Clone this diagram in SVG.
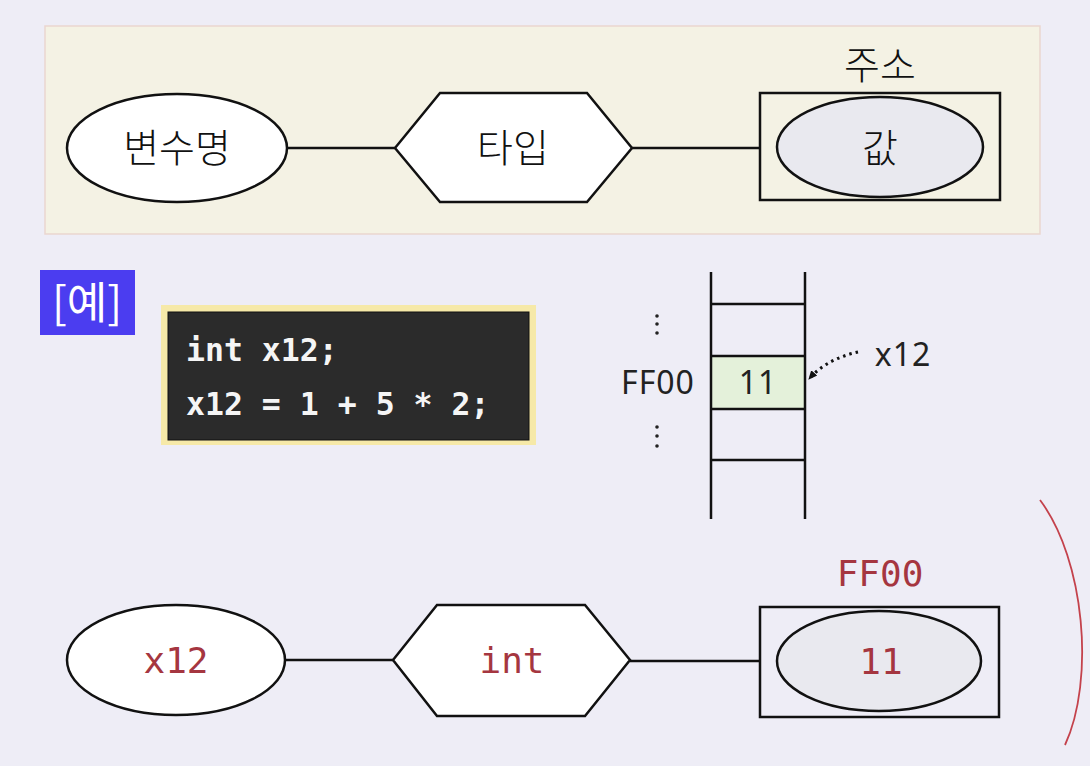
<svg xmlns="http://www.w3.org/2000/svg" width="1090" height="766" viewBox="0 0 1090 766">
<defs>
<style>
.bg{fill:#eeedf6}
.shape{fill:#ffffff;stroke:#111;stroke-width:2.5}
.val{fill:#e9e9ef;stroke:#111;stroke-width:2.5}
.box{fill:none;stroke:#111;stroke-width:2.5}
.conn{stroke:#111;stroke-width:2.5;fill:none}
.ko{font-family:"Noto Sans CJK KR","Noto Sans",sans-serif;font-size:39px;font-weight:300;fill:#111;text-anchor:middle}
.red{font-family:"DejaVu Sans Mono","Liberation Mono",monospace;font-size:36px;fill:#a53640;text-anchor:middle}
.code{font-family:"DejaVu Sans Mono","Liberation Mono",monospace;font-size:31.5px;fill:#f5f5f5;font-weight:bold}
.mem{font-family:"Noto Sans","Liberation Sans",sans-serif;font-size:32px;font-weight:400;fill:#222;letter-spacing:1px}
.grid{stroke:#111;stroke-width:2.5}
</style>
<marker id="ah" markerWidth="10" markerHeight="10" refX="8" refY="5" orient="auto" markerUnits="userSpaceOnUse">
<path d="M0,1 L9,5 L0,9 Z" fill="#111"/>
</marker>
</defs>
<rect class="bg" x="0" y="0" width="1090" height="766"/>

<g id="top-panel">
<rect x="45" y="26" width="995" height="208" fill="#f4f2e4" stroke="#ead6cf" stroke-width="1.5"/>
</g>

<g id="connectors">
<line class="conn" x1="287" y1="148" x2="395" y2="148"/>
<line class="conn" x1="632" y1="148" x2="760" y2="148"/>
<line class="conn" x1="285" y1="660" x2="393" y2="660"/>
<line class="conn" x1="630" y1="661" x2="760" y2="661"/>
<path d="M858,352 C840,356 822,364 809,379" fill="none" stroke="#111" stroke-width="3" stroke-dasharray="2.5,4" marker-end="url(#ah)"/>
</g>

<g id="node-varname">
<ellipse class="shape" cx="177" cy="148" rx="110" ry="54"/>
<text class="ko" x="177" y="162">변수명</text>
</g>
<g id="node-type">
<polygon class="shape" points="395,148 440,93 587,93 632,148 587,202 440,202"/>
<text class="ko" x="513" y="162">타입</text>
</g>
<g id="node-value">
<rect class="box" x="760" y="93" width="240" height="107" fill="#ffffff"/>
<ellipse class="val" cx="880" cy="147" rx="103" ry="50"/>
<text class="ko" x="880" y="162">값</text>
<text class="ko" x="880" y="79">주소</text>
</g>

<g id="example-label">
<rect x="40" y="270" width="95" height="65" fill="#4b3df0"/>
<text x="87" y="319" font-family="Noto Sans CJK KR,Noto Sans,sans-serif" font-size="44" font-weight="400" fill="#ffffff" text-anchor="middle">[예]</text>
</g>

<g id="code-box">
<rect x="161" y="305" width="375" height="140" fill="#f6e9a8"/>
<rect x="168" y="312" width="361" height="128" fill="#2b2b2b" stroke="#111" stroke-width="1"/>
<text class="code" x="186" y="361">int x12;</text>
<text class="code" x="186" y="415">x12 = 1 + 5 * 2;</text>
</g>

<g id="memory">
<rect x="711" y="356" width="94" height="53" fill="#e4f1da"/>
<line class="grid" x1="711" y1="272" x2="711" y2="519"/>
<line class="grid" x1="805" y1="272" x2="805" y2="519"/>
<line class="grid" x1="711" y1="304" x2="805" y2="304"/>
<line class="grid" x1="711" y1="356" x2="805" y2="356"/>
<line class="grid" x1="711" y1="409" x2="805" y2="409"/>
<line class="grid" x1="711" y1="460" x2="805" y2="460"/>
<text class="mem" x="758" y="394" text-anchor="middle">11</text>
<text class="mem" x="658" y="394" text-anchor="middle">FF00</text>
<g fill="#222">
<circle cx="657" cy="316" r="1.8"/><circle cx="657" cy="324" r="1.8"/><circle cx="657" cy="333" r="1.8"/>
<circle cx="657" cy="427" r="1.8"/><circle cx="657" cy="436" r="1.8"/><circle cx="657" cy="446" r="1.8"/>
</g>
<text class="mem" x="903" y="366" text-anchor="middle">x12</text>
</g>

<g id="node-x12">
<ellipse class="shape" cx="176" cy="660" rx="109" ry="55"/>
<text class="red" x="176" y="673">x12</text>
</g>
<g id="node-int">
<polygon class="shape" points="393,660 437,605 585,605 630,660 585,716 437,716"/>
<text class="red" x="512" y="673">int</text>
</g>
<g id="node-11">
<rect class="box" x="760" y="607" width="239" height="110" fill="#ffffff"/>
<ellipse class="val" cx="879" cy="661" rx="102" ry="50"/>
<text class="red" x="881" y="674">11</text>
<text class="red" x="880" y="586">FF00</text>
</g>

<path d="M1040,500 C1085,560 1095,680 1065,745" fill="none" stroke="#c4424c" stroke-width="1.8"/>
</svg>
